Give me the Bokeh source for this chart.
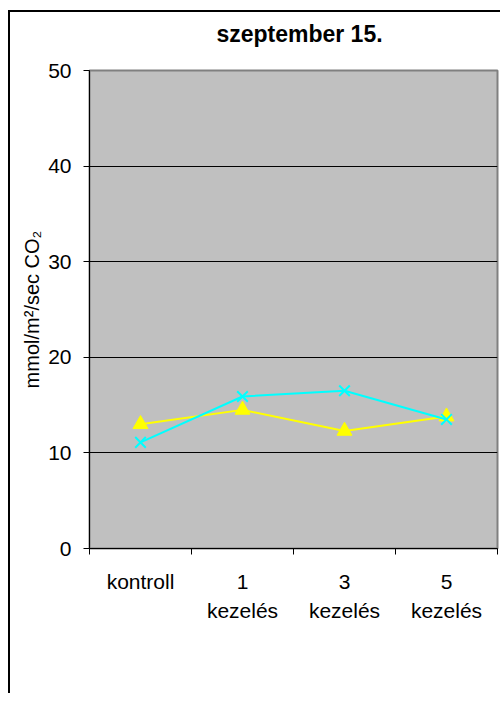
from bokeh.plotting import figure
from bokeh.layouts import column
from bokeh.models import (Range1d, FixedTicker, Legend, LegendItem, ColumnDataSource,
                          LinearAxis)
from bokeh.core.properties import value
from bokeh.embed import file_html
from bokeh.resources import INLINE

title = "szeptember 15."
categories_line1 = ["kontroll", "1", "3", "5"]
categories_line2 = ["", "kezelés", "kezelés", "kezelés"]
mv_tc_514 = [13.0, 14.5, 12.3, 13.8]
veronika = [11.1, 15.9, 16.5, 13.5]
series_names = ["Mv TC 514", "Veronika"]
y_ticks = [0, 10, 20, 30, 40, 50]
y_label = "mmol/m²/sec CO₂"

FONT = "Liberation Sans"
YELLOW = "#FFFF00"
CYAN = "#00FFFF"
n = len(categories_line1)
xs = [i + 0.5 for i in range(n)]
FW = 408
BL = 79
BR = 3

# ---- title strip ----
pt = figure(frame_width=FW, frame_height=44, output_backend="svg", toolbar_location=None,
            title=None, x_axis_type=None, y_axis_type=None,
            x_range=Range1d(0, FW), y_range=Range1d(0, 44),
            min_border_left=BL, min_border_right=BR, min_border_top=0,
            min_border_bottom=0)
pt.grid.visible = False
pt.outline_line_color = None
pt.background_fill_color = "white"
pt.border_fill_color = "white"
pt.text(x=[210], y=[23], text=[title], text_font=value(FONT),
        text_font_size="23px", text_font_style="bold", text_color="black",
        text_align="center", text_baseline="middle")

# ---- main chart ----
p = figure(frame_width=FW, frame_height=478, output_backend="svg", toolbar_location=None,
           title=None, x_range=Range1d(0, n), y_range=Range1d(0, 50),
           min_border_left=BL, min_border_top=14, min_border_right=BR,
           min_border_bottom=85)

p.background_fill_color = "#C0C0C0"
p.border_fill_color = "white"
p.outline_line_color = "#808080"
p.outline_line_width = 2

p.xgrid.visible = False
p.ygrid.grid_line_color = "#000000"
p.ygrid.grid_line_width = 1

xa = p.xaxis[0]
xa.ticker = FixedTicker(ticks=xs, minor_ticks=list(range(n + 1)))
xa.major_label_overrides = {x: c for x, c in zip(xs, categories_line1)}
xa.major_tick_out = 0
xa.major_tick_in = 0
xa.minor_tick_out = 6
xa.minor_tick_in = 0
xa.minor_tick_line_color = "black"
xa.axis_line_color = "black"
xa.axis_line_width = 1
xa.major_label_text_font = FONT
xa.major_label_text_font_size = "21px"
xa.major_label_text_color = "black"
xa.major_label_standoff = 15

xa2 = LinearAxis(ticker=FixedTicker(ticks=xs, minor_ticks=[]))
xa2.major_label_overrides = {x: c for x, c in zip(xs, categories_line2)}
xa2.axis_line_color = None
xa2.major_tick_line_color = None
xa2.minor_tick_line_color = None
xa2.major_tick_out = 0
xa2.major_tick_in = 0
xa2.major_label_text_font = FONT
xa2.major_label_text_font_size = "21px"
xa2.major_label_text_color = "black"
xa2.major_label_standoff = 3
p.add_layout(xa2, "below")

ya = p.yaxis[0]
ya.ticker = FixedTicker(ticks=y_ticks, minor_ticks=[])
ya.major_tick_out = 6
ya.major_tick_in = 0
ya.axis_line_color = "black"
ya.major_tick_line_color = "black"
ya.major_label_text_font = FONT
ya.major_label_text_font_size = "21px"
ya.major_label_text_color = "black"
ya.major_label_standoff = 12
ya.axis_label = y_label
ya.axis_label_text_font = FONT
ya.axis_label_text_font_size = "20px"
ya.axis_label_text_font_style = "normal"
ya.axis_label_text_color = "black"
ya.axis_label_standoff = 2

src = ColumnDataSource(dict(x=xs, mv=mv_tc_514, ve=veronika))
p.line("x", "mv", source=src, line_color=YELLOW, line_width=2)
p.scatter("x", "mv", source=src, marker="triangle", size=15,
          fill_color=YELLOW, line_color=YELLOW)
p.line("x", "ve", source=src, line_color=CYAN, line_width=2)
p.scatter("x", "ve", source=src, marker="x", size=15,
          line_color=CYAN, line_width=2)

# ---- legend strip (series drawn off-range so only the legend shows) ----
pl = figure(frame_width=FW, frame_height=50, output_backend="svg", toolbar_location=None,
            title=None, x_axis_type=None, y_axis_type=None,
            x_range=Range1d(0, n), y_range=Range1d(100, 101),
            min_border_left=BL, min_border_top=10, min_border_right=BR,
            min_border_bottom=0)
pl.grid.visible = False
pl.outline_line_color = None
pl.background_fill_color = "white"
pl.border_fill_color = "white"
g1 = pl.line("x", "mv", source=src, line_color=YELLOW, line_width=2)
s1 = pl.scatter("x", "mv", source=src, marker="triangle", size=15,
                fill_color=YELLOW, line_color=YELLOW)
g2 = pl.line("x", "ve", source=src, line_color=CYAN, line_width=2)
s2 = pl.scatter("x", "ve", source=src, marker="x", size=15,
                line_color=CYAN, line_width=2)

legend = Legend(items=[LegendItem(label=series_names[0], renderers=[g1, s1]),
                       LegendItem(label=series_names[1], renderers=[g2, s2])],
                orientation="horizontal", location=(21, 50))
legend.border_line_color = "#808080"
legend.border_line_width = 2
legend.background_fill_color = "white"
legend.label_text_font = FONT
legend.label_text_font_size = "21px"
legend.label_text_color = "black"
legend.glyph_width = 60
legend.glyph_height = 28
legend.label_standoff = 8
legend.spacing = 12
legend.padding = 8
legend.margin = 0
pl.add_layout(legend, "center")

layout = column(pt, p, pl, spacing=0,
                styles={"border-left": "2px solid #000", "border-top": "2px solid #000",
                        "margin-top": "10px", "margin-left": "8px"})

open("out.html", "w").write(file_html(layout, INLINE))
